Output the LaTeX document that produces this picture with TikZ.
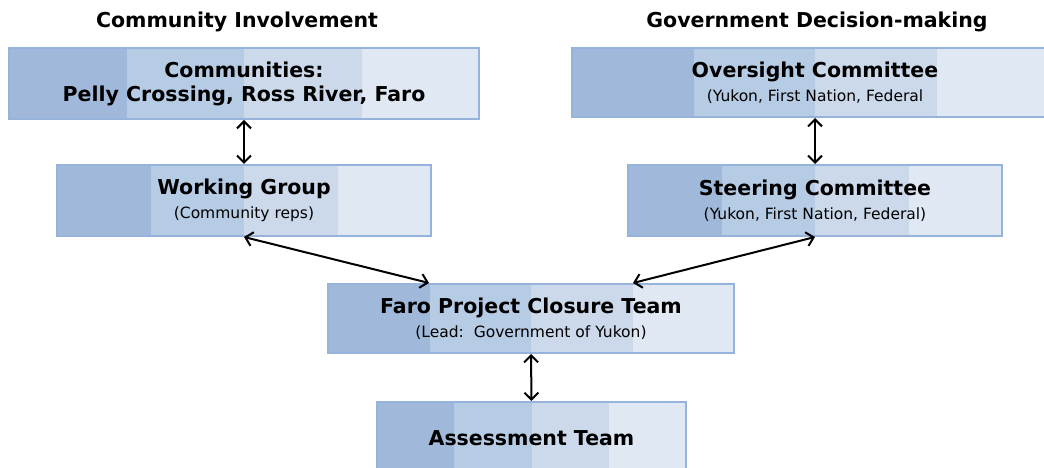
\documentclass[tikz,border=0pt]{standalone}
\usepackage{fontspec}
\setmainfont{DejaVu Sans}
\usetikzlibrary{calc,arrows.meta}

\definecolor{bandA}{HTML}{A0B9DA}
\definecolor{bandB}{HTML}{B6CBE4}
\definecolor{bandC}{HTML}{CBD9EB}
\definecolor{bandD}{HTML}{E0E8F3}
\definecolor{boxline}{HTML}{95B3DB}

\tikzset{
  bands/.style={path picture={
    \foreach \c [count=\i from 0] in {bandA,bandB,bandC,bandD}
      \fill[\c] ($(path picture bounding box.south west)!\i/4!(path picture bounding box.south east)$)
        rectangle ($(path picture bounding box.north west)!\i/4+0.25!(path picture bounding box.north east)$);
  }},
  team/.style={bands, draw=boxline, line width=2pt, align=center, inner sep=0pt,
    font=\bfseries\fontsize{20.5}{24}\selectfont},
  heading/.style={font=\bfseries\fontsize{20.5}{24}\selectfont},
  link/.style={>={Straight Barb[length=7pt,width=14pt]}, <->, line width=2pt},
}
\newcommand{\members}[1]{{\normalfont\fontsize{15.5}{18}\selectfont #1}}

\begin{document}
\begin{tikzpicture}[x=1pt, y=1pt]
  \clip (0,0) rectangle (1044,468);
  % headings
  \node[heading] (hcom) at (237,446) {Community Involvement};
  \node[heading] (hgov) at (817,446) {Government Decision-making};
  % boxes
  \node[team, minimum width=470, minimum height=71] (comm) at (244,384.5)
    {Communities:\\Pelly Crossing, Ross River, Faro};
  \node[team, minimum width=486, minimum height=69] (over) at (815,385.5)
    {Oversight Committee\\\members{(Yukon, First Nation, Federal}};
  \node[team, minimum width=374, minimum height=71] (work) at (244,267.5)
    {Working Group\\\members{(Community reps)}};
  \node[team, minimum width=374, minimum height=71] (steer) at (815,267.5)
    {Steering Committee\\\members{(Yukon, First Nation, Federal)}};
  \node[team, minimum width=406, minimum height=69] (pct) at (531,149.5)
    {Faro Project Closure Team\\\members{(Lead:\ \ Government of Yukon)}};
  \node[team, minimum width=309, minimum height=72] (assess) at (531.5,30)
    {Assessment Team};
  % arrows
  \draw[link] (comm.south) -- (work.north);
  \draw[link] (over.south) -- (steer.north);
  \draw[link] (work.south) -- ($(pct.north west)!0.25!(pct.north east)$);
  \draw[link] (steer.south) -- ($(pct.north west)!0.75!(pct.north east)$);
  \draw[link] (pct.south) -- (assess.north);
\end{tikzpicture}
\end{document}
